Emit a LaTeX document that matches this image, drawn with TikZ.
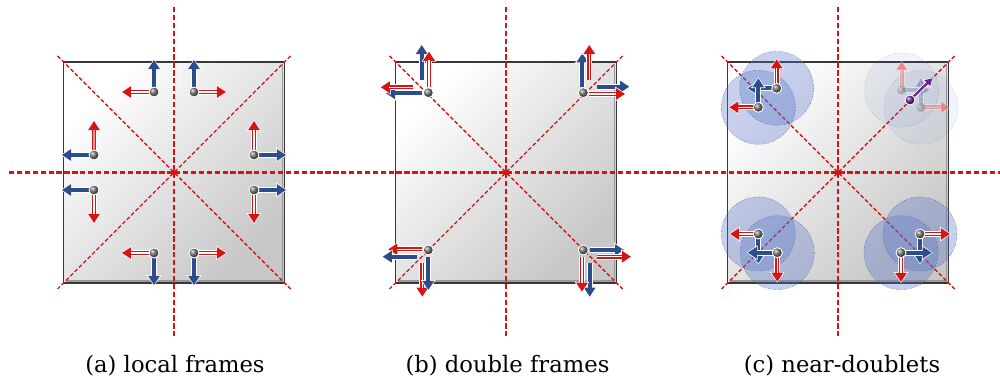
\documentclass[tikz,border=0pt]{standalone}
\usepackage{fontspec}
\setmainfont{DejaVu Serif}
\usepackage{tikz}
\usetikzlibrary{arrows.meta}
\definecolor{fred}{RGB}{215,20,20}
\definecolor{fblue}{RGB}{44,76,140}
\definecolor{cblue}{RGB}{85,115,200}
\definecolor{fpurple}{RGB}{105,35,150}

\begin{document}
\begin{tikzpicture}[x=0.2mm, y=-0.2mm,
    panel/.style={draw=black!78, line width=0.8pt, top color=white, middle color=black!2, bottom color=black!22, shading angle=45},
    axisline/.style={draw=fred, line width=1.15pt, dash pattern=on 3pt off 1.5pt},
    diagline/.style={draw=fred, line width=0.8pt, dash pattern=on 2.2pt off 1.3pt},
    centre/.style={circle, fill=fred, inner sep=0pt, minimum size=1mm},
    dot/.style={circle, shading=ball, ball color=black!55, draw=white, line width=0.5pt, inner sep=0pt, minimum size=2mm},
    bluearrow/.style={draw=fblue, line width=2.3pt, -{Triangle[length=5.2pt, width=6.4pt]},
        preaction={draw=white, line width=3.3pt, -{Triangle[length=6.2pt, width=8pt]}, shorten >=-0.6pt}},
    redarrow/.style={draw=fred, line width=2.3pt, -{Triangle[length=5.2pt, width=6.4pt]},
        preaction={draw=white, line width=3.3pt, -{Triangle[length=6.2pt, width=8pt]}, shorten >=-0.6pt},
        postaction={draw=#1, line width=0.8pt, -, shorten >=5pt}},
    redarrow/.default=white,
    halo/.style={circle, draw=cblue!70!black, draw opacity=0.7, densely dotted, line width=0.4pt,
        fill=cblue, fill opacity=0.33, inner sep=0pt, minimum size=14.8mm},
    caption/.style={font=\fontsize{12.9}{15}\selectfont, anchor=base}
]
\useasboundingbox (0,0) rectangle (1000,385);

% the three squares
\draw[panel] (63.5,62) rectangle (284.5,283);
\draw[panel] (395.5,62) rectangle (616.5,283);
\draw[panel] (727.5,62) rectangle (948.5,283);
\draw[black!40, line width=1pt] (282.5,64) -- (282.5,281) -- (65.5,281);
\draw[black!40, line width=1pt] (614.5,64) -- (614.5,281) -- (397.5,281);
\draw[black!40, line width=1pt] (946.5,64) -- (946.5,281) -- (729.5,281);

% symmetry lines
\draw[axisline] (9,172.5) -- (1000,172.5);
\draw[axisline] (174,7) -- (174,337);
\draw[axisline] (506,7) -- (506,337);
\draw[axisline] (838,7) -- (838,337);
\draw[diagline] (57.5,56) -- (290.5,289);
\draw[diagline] (290.5,56) -- (57.5,289);
\draw[diagline] (389.5,56) -- (622.5,289);
\draw[diagline] (622.5,56) -- (389.5,289);
\draw[diagline] (721.5,56) -- (954.5,289);
\draw[diagline] (954.5,56) -- (721.5,289);
\node[centre] (oa) at (174,172.5) {};
\node[centre] (ob) at (506,172.5) {};
\node[centre] (oc) at (838,172.5) {};

% (a) local frames
\coordinate (a1) at (154,92);
\coordinate (a2) at (194,92);
\coordinate (a3) at (94,155);
\coordinate (a4) at (94,190);
\coordinate (a5) at (254,155);
\coordinate (a6) at (254,190);
\coordinate (a7) at (154,253);
\coordinate (a8) at (194,253);
\draw[bluearrow] (a1) -- ++(0,-32);  \draw[redarrow] (a1) -- ++(-32,0);
\draw[bluearrow] (a2) -- ++(0,-32);  \draw[redarrow] (a2) -- ++(32,0);
\draw[bluearrow] (a3) -- ++(-32,0);  \draw[redarrow=fred!45] (a3) -- ++(0,-34);
\draw[bluearrow] (a4) -- ++(-32,0);  \draw[redarrow] (a4) -- ++(0,33);
\draw[bluearrow] (a5) -- ++(32,0);   \draw[redarrow] (a5) -- ++(0,-34);
\draw[bluearrow] (a6) -- ++(32,0);   \draw[redarrow] (a6) -- ++(0,33);
\draw[redarrow] (a7) -- ++(-32,0);   \draw[bluearrow] (a7) -- ++(0,32);
\draw[redarrow] (a8) -- ++(32,0);    \draw[bluearrow] (a8) -- ++(0,32);
\node[dot] (da1) at (a1) {};
\node[dot] (da2) at (a2) {};
\node[dot] (da3) at (a3) {};
\node[dot] (da4) at (a4) {};
\node[dot] (da5) at (a5) {};
\node[dot] (da6) at (a6) {};
\node[dot] (da7) at (a7) {};
\node[dot] (da8) at (a8) {};

% (b) double frames
\draw[bluearrow] (421.7,80) -- (421.7,45);
\draw[bluearrow] (421.7,93.3) -- (386,93.3);
\draw[redarrow] (429,87.3) -- (429,51.7);
\draw[redarrow] (413,87.3) -- (380.7,87.3);
\draw[bluearrow] (582.3,86.7) -- (582.3,53.3);
\draw[bluearrow] (596.7,86.7) -- (629.3,86.7);
\draw[redarrow] (589.3,80) -- (589.3,45);
\draw[redarrow] (589.3,94) -- (625,94);
\draw[redarrow] (422.3,249.3) -- (388.3,249.3);
\draw[redarrow] (422.3,263) -- (422.3,296.7);
\draw[bluearrow] (416.7,256.7) -- (382.7,256.7);
\draw[bluearrow] (428.3,256.7) -- (428.3,290);
\draw[bluearrow] (589.7,250) -- (624,250);
\draw[bluearrow] (589.7,263) -- (589.7,296.7);
\draw[redarrow] (596.7,256.7) -- (631,256.7);
\draw[redarrow] (582,256.7) -- (582,291.7);
\node[dot] (db1) at (428.3,92.7) {};
\node[dot] (db2) at (583.3,92.7) {};
\node[dot] (db3) at (428.3,250) {};
\node[dot] (db4) at (583.3,250) {};

% (c) near-doublets
\coordinate (c1) at (776.7,88.3);
\coordinate (c2) at (758.3,107.3);
\coordinate (c3) at (758.3,234);
\coordinate (c4) at (777.3,252.7);
\coordinate (c5) at (920,234);
\coordinate (c6) at (901,252.7);
\coordinate (c7) at (901.7,90);
\coordinate (c8) at (921,107.3);
\node[halo] (hc1) at (c1) {};
\node[halo] (hc2) at (c2) {};
\node[halo] (hc3) at (c3) {};
\node[halo] (hc4) at (c4) {};
\node[halo] (hc5) at (c5) {};
\node[halo] (hc6) at (c6) {};
\draw[redarrow] (c1) -- (776.7,59.3);   \draw[bluearrow] (c1) -- (747.7,88.3);
\draw[redarrow] (c2) -- (729.3,107.3);  \draw[bluearrow] (c2) -- (758.3,78.3);
\draw[redarrow] (c3) -- (730,234);      \draw[bluearrow] (c3) -- (758.3,263.3);
\draw[redarrow] (c4) -- (777.3,281.7);  \draw[bluearrow] (c4) -- (747.7,252.7);
\draw[redarrow] (c5) -- (950,234);      \draw[bluearrow] (c5) -- (920,263.3);
\draw[redarrow] (c6) -- (901,282);      \draw[bluearrow] (c6) -- (931.7,252.7);
\node[dot] (dc1) at (c1) {};
\node[dot] (dc2) at (c2) {};
\node[dot] (dc3) at (c3) {};
\node[dot] (dc4) at (c4) {};
\node[dot] (dc5) at (c5) {};
\node[dot] (dc6) at (c6) {};
\begin{scope}[opacity=0.3]
  \node[halo, fill opacity=0.08, draw opacity=0.3] (hc7) at (c7) {};
  \node[halo, fill opacity=0.08, draw opacity=0.3] (hc8) at (c8) {};
  \draw[redarrow] (c7) -- (901.7,61);   \draw[bluearrow] (c7) -- (930,90);
  \draw[redarrow] (c8) -- (950,107.3);  \draw[bluearrow] (c8) -- (921,78);
  \node[dot] (dc7) at (c7) {};
  \node[dot] (dc8) at (c8) {};
\end{scope}
\draw[draw=fpurple, line width=1.3pt, -{Triangle[length=4pt, width=4.5pt]},
    preaction={draw=white, line width=2.3pt, -{Triangle[length=5pt, width=6pt]}, shorten >=-0.5pt}]
    (910,100) -- (932.3,78.3);
\node[dot, ball color=fpurple] (dp) at (910,100) {};

% captions
\node[caption] (capa) at (175,373) {(a) local frames};
\node[caption] (capb) at (507.5,373) {(b) double frames};
\node[caption] (capc) at (842,373) {(c) near-doublets};

\end{tikzpicture}
\end{document}
